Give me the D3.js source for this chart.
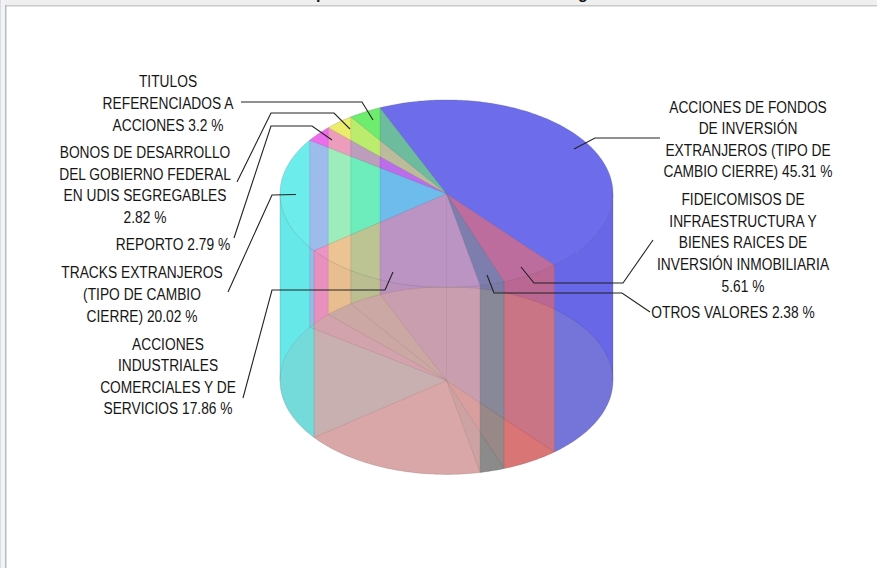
<!DOCTYPE html>
<html><head><meta charset="utf-8">
<script src="https://cdn.jsdelivr.net/npm/d3@7/dist/d3.min.js"></script>
<style>html,body{margin:0;padding:0;background:#fff;overflow:hidden}svg{display:block}
text{font-family:"Liberation Sans",Arial,sans-serif;fill:#151515}</style></head>
<body><svg id="c" width="877" height="568"></svg>
<script>
const categories = ["Fondos","Fideicomisos","Otros","Acciones","Tracks","Reporto","Bonos","Titulos"];
const seriesValues = [45.31,5.61,2.38,17.86,20.02,2.79,2.82,3.2];
const seriesColors = ["#0000e2","#e20000","#323232","#e27171","#00e2e2","#e200e2","#e2e200","#00e200"];
const wallColors = ["#0000d9","#d90000","#303030","#d96c6c","#00d9d9","#d900d9","#d9d900","#00d900"];
const bottomColors = ["#000066","#660000","#161616","#663333","#047474","#441c60","#10401c","#10401c"];
const labelLines = [
 ["TITULOS","REFERENCIADOS A","ACCIONES 3.2 %"],
 ["BONOS DE DESARROLLO","DEL GOBIERNO FEDERAL","EN UDIS SEGREGABLES","2.82 %"],
 ["REPORTO 2.79 %"],
 ["TRACKS EXTRANJEROS","(TIPO DE CAMBIO","CIERRE) 20.02 %"],
 ["ACCIONES","INDUSTRIALES","COMERCIALES Y DE","SERVICIOS 17.86 %"],
 ["ACCIONES DE FONDOS","DE INVERSIÓN","EXTRANJEROS  (TIPO DE","CAMBIO CIERRE) 45.31 %"],
 ["FIDEICOMISOS DE","INFRAESTRUCTURA Y","BIENES RAICES DE","INVERSIÓN INMOBILIARIA","5.61 %"],
 ["OTROS VALORES 2.38 %"]
];
const labelCenterX = [168,145,173,142,168,748,743,733];
const labelFirstY = [81,152,244,272,344,107,199,312];
const labelStep = [22,21.7,22,22,21.3,21.5,21.7,22];
const leaders = [
 [[241,102],[362,102],[373,120]],
 [[237,182],[271,113],[334,113],[350,129]],
 [[234,238],[271,126],[312,126],[332,140]],
 [[228,292],[272,195],[296,194.5]],
 [[243,398],[272,290],[385,290],[393,272]],
 [[574,149],[595,138],[660,138]],
 [[521,267],[534,283],[623,283],[653,240]],
 [[487,275],[494,293],[622,293],[650,312]]
];

const cx=446.5, cyTop=193.7, cyBot=380.6, rx=166.5, ry=93.8;
const svg=d3.select("#c");
const pie=d3.pie().sort(null).startAngle(-23.55*Math.PI/180).endAngle((360-23.55)*Math.PI/180);
const slices=pie(seriesValues);
const OP={back:.34,bottom:.25,front:.39,top:.35};
const edge="rgba(90,90,90,.14)";
const px=(a,cy)=>[cx+rx*Math.sin(a),cy-ry*Math.cos(a)];
const line=d3.line();

function wedge(s,cy){
  const pts=[[cx,cy]];
  const n=Math.max(4,Math.ceil((s.endAngle-s.startAngle)*60));
  d3.range(n+1).forEach(i=>pts.push(px(s.startAngle+(s.endAngle-s.startAngle)*i/n,cy)));
  return line(pts)+"Z";
}
function wall(a0,a1){
  const n=Math.max(4,Math.ceil((a1-a0)*60)), up=[],dn=[];
  d3.range(n+1).forEach(i=>{const a=a0+(a1-a0)*i/n;up.push(px(a,cyTop));dn.push(px(a,cyBot));});
  return line(up.concat(dn.reverse()))+"Z";
}
function parts(s){
  const P=Math.PI, out={back:[],front:[]};
  [[-P/2,P/2,"back"],[P/2,3*P/2,"front"],[3*P/2,5*P/2,"back"]].forEach(([lo,hi,k])=>{
    const a0=Math.max(s.startAngle,lo),a1=Math.min(s.endAngle,hi);
    if(a1>a0) out[k].push([a0,a1]);
  });
  return out;
}
const chart=svg.append("g");
function faces(kind){
  slices.forEach((s,i)=>{
    parts(s)[kind].forEach(([a0,a1])=>{
      chart.append("path").attr("d",wall(a0,a1)).attr("fill",wallColors[i])
        .attr("fill-opacity",OP[kind]).attr("stroke",edge).attr("stroke-width",.8);
    });
  });
}
function disc(cy,kind,colors){
  slices.forEach((s,i)=>{
    chart.append("path").attr("d",wedge(s,cy)).attr("fill",colors[i])
      .attr("fill-opacity",OP[kind]).attr("stroke",edge).attr("stroke-width",.8);
  });
}
faces("back");
disc(cyBot,"bottom",bottomColors);
chart.append("path").attr("d",line([[cx,cyTop],[cx,cyBot]])).attr("stroke",edge).attr("fill","none");
faces("front");
disc(cyTop,"top",seriesColors);

// leaders
svg.append("g").selectAll("path").data(leaders).join("path")
  .attr("d",d=>line(d)).attr("fill","none").attr("stroke","#222").attr("stroke-width",1.1);

// labels, horizontally condensed like the stretched reference
labelLines.forEach((ls,i)=>{
  svg.append("g").selectAll("text").data(ls).join("text")
    .attr("transform",(d,j)=>`translate(${labelCenterX[i]},${labelFirstY[i]+j*labelStep[i]}) scale(.835,1)`)
    .attr("text-anchor","middle").attr("dominant-baseline","central")
    .attr("font-size",16.5).text(d=>d);
});

// window chrome: clipped title bar and left border
const bar=svg.append("g");
bar.append("rect").attr("width",877).attr("height",5).attr("fill","#efefef");
bar.append("rect").attr("y",5).attr("width",877).attr("height",1.5).attr("fill","#c9c9c9");
bar.append("rect").attr("y",0).attr("width",5).attr("height",568).attr("fill","#f3f3f3");
bar.append("rect").attr("x",5).attr("y",5).attr("width",1.5).attr("height",563).attr("fill","#b4bcc8");
bar.append("rect").attr("x",0).attr("y",0).attr("width",1).attr("height",568).attr("fill","#d8dde4");
bar.selectAll("text").data([["p",321],["g",583]]).join("text")
  .attr("x",d=>d[1]).attr("y",-1).attr("text-anchor","middle")
  .attr("font-size",16).attr("font-weight","bold").text(d=>d[0]);
</script></body></html>
